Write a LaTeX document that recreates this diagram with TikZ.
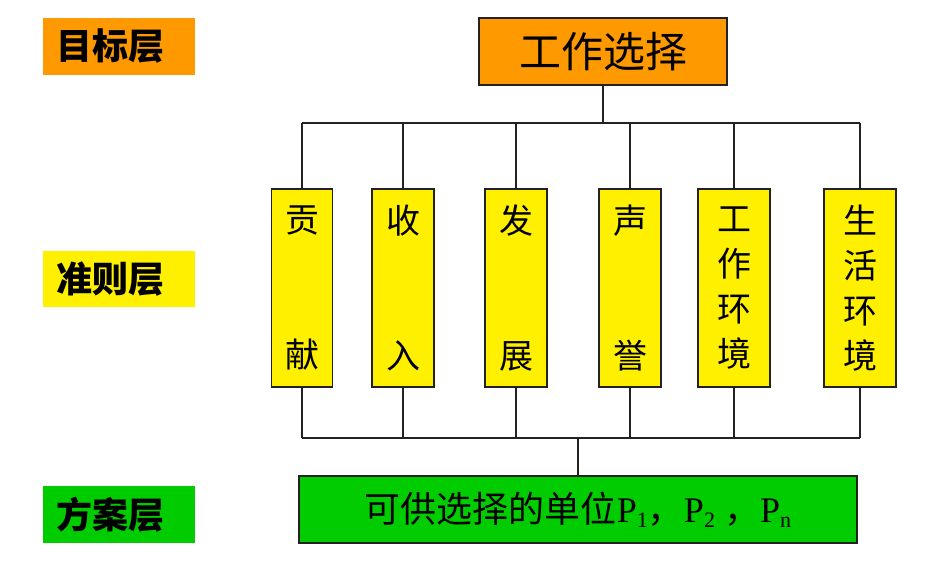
\documentclass[tikz,border=0pt]{standalone}
\usepackage{fontspec}
\setmainfont{Liberation Serif}
\newfontfamily\cjk{Noto Sans CJK SC}
\definecolor{orangeF}{HTML}{FF9900}
\definecolor{yellowF}{HTML}{FFF000}
\definecolor{greenF}{HTML}{00CC00}
\definecolor{lineC}{HTML}{222222}
\begin{document}
\begin{tikzpicture}[x=1pt,y=-1pt,
  layer/.style={text width=152pt,align=left,inner sep=0pt,font=\cjk\bfseries\fontsize{36}{38}\selectfont},
  goalbox/.style={draw=lineC,line width=1.1pt,fill=orangeF,minimum width=248pt,minimum height=67pt,inner sep=0pt,font=\cjk\fontsize{42}{44}\selectfont},
  critbox/.style={draw=lineC,line width=1.1pt,fill=yellowF,minimum height=198pt,inner sep=0pt,align=center,font=\cjk\fontsize{34}{45}\selectfont},
  planbox/.style={draw=lineC,line width=1.1pt,fill=greenF,minimum width=558pt,minimum height=67pt,inner sep=0pt},
  wire/.style={draw=lineC,line width=1.1pt}]
\useasboundingbox (0,0) rectangle (928,567);
% layer labels
\node[layer,fill=orangeF,minimum height=57pt] (lg) at (119,46.5) {\hspace{13pt}目标层};
\node[layer,fill=yellowF,minimum height=56pt] (lc) at (119,279) {\hspace{13pt}准则层};
\node[layer,fill=greenF,minimum height=57pt] (lp) at (119,514.5) {\hspace{13pt}方案层};
% goal
\node[goalbox] (top) at (603,51.5) {工作选择};
% criteria
\node[critbox,minimum width=61pt] (c1) at (302,288) {贡\\[90pt]献};
\node[critbox,minimum width=62pt] (c2) at (403,288) {收\\[90pt]入};
\node[critbox,minimum width=62pt] (c3) at (516,288) {发\\[90pt]展};
\node[critbox,minimum width=62pt] (c4) at (630,288) {声\\[90pt]誉};
\node[critbox,minimum width=72pt] (c5) at (734,288) {工\\作\\环\\境};
\node[critbox,minimum width=72pt] (c6) at (860,288) {生\\活\\环\\境};
% plan
\node[planbox] (plan) at (578,509.5) {\fontsize{36}{38}\selectfont{\cjk 可供选择的单位}P\raisebox{-0.32ex}{\fontsize{22}{22}\selectfont 1}{\cjk ，}P\raisebox{-0.32ex}{\fontsize{22}{22}\selectfont 2} {\cjk ，}P\raisebox{-0.32ex}{\fontsize{22}{22}\selectfont n}};
% buses
\coordinate (busT) at (603,123);
\coordinate (busB) at (580,438);
\draw[wire] (top.south) -- (top.south |- busT);
\draw[wire] (c1.north |- busT) -- (c6.north |- busT);
\foreach \c in {c1,c2,c3,c4,c5,c6}{
  \draw[wire] (\c.north) -- (\c.north |- busT);
  \draw[wire] (\c.south) -- (\c.south |- busB);
}
\draw[wire] (c1.south |- busB) -- (c6.south |- busB);
\draw[wire] (plan.north) -- (plan.north |- busB);
\end{tikzpicture}
\end{document}
